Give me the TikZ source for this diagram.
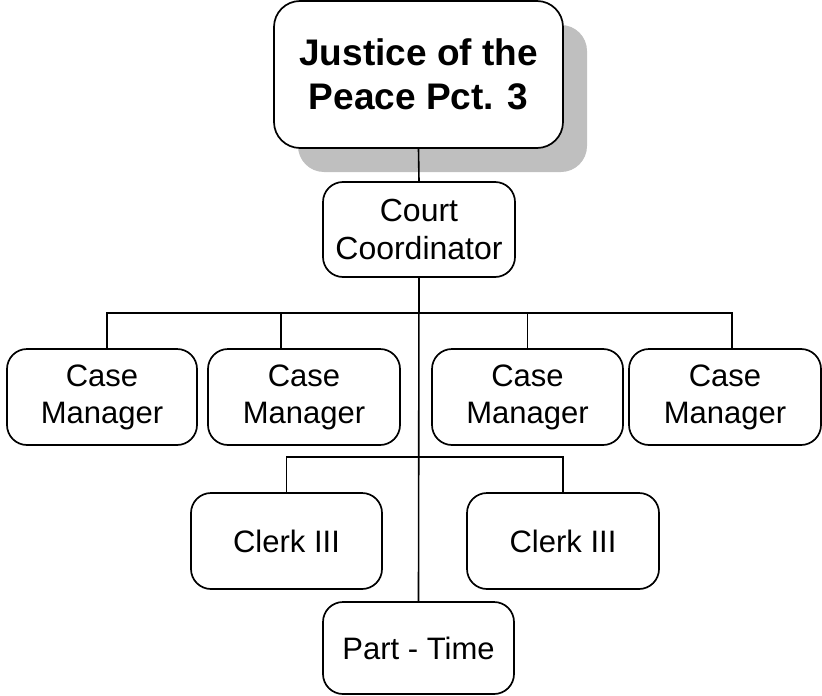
\documentclass[tikz,border=0pt]{standalone}
\usepackage{fontspec}
\setmainfont{Liberation Sans}
\usepackage{tikz}
\usetikzlibrary{positioning,calc,shadows}

\tikzset{
    staffbox/.style={draw, line width=1.7pt, rounded corners=20pt, fill=white, align=center,
        inner sep=0pt, minimum width=191pt, minimum height=96pt,
        font=\fontsize{31}{37}\selectfont},
    judgebox/.style={staffbox, rounded corners=26pt, minimum width=289pt, minimum height=147pt,
        font=\fontsize{37}{44}\selectfont\bfseries,
        general shadow={fill=black!25, shadow xshift=24pt, shadow yshift=-24pt}},
    link/.style={line width=1.6pt}
}

\begin{document}
\begin{tikzpicture}[x=1pt, y=1pt]
    \useasboundingbox (0,0) rectangle (822,-696);

    % Judge and coordinator
    \node[judgebox] (judge) at (418.5,-74.5) {Justice of the\\Peace Pct. 3};
    \node[staffbox, minimum width=192pt, minimum height=95pt, font=\fontsize{32}{38}\selectfont]
        (coord) at (419,-229.5) {Court\\Coordinator};

    % Case managers
    \node[staffbox, minimum width=190pt] (cm1) at (102,-397) {Case\\Manager};
    \node[staffbox, minimum width=192pt] (cm2) at (304,-397) {Case\\Manager};
    \node[staffbox] (cm3) at (527.5,-397) {Case\\Manager};
    \node[staffbox, minimum width=192pt] (cm4) at (725,-397) {Case\\Manager};

    % Clerks
    \node[staffbox] (clerk1) at (286.5,-541) {Clerk III};
    \node[staffbox, minimum width=192pt] (clerk2) at (563,-541) {Clerk III};

    % Part-time
    \node[staffbox, minimum height=92pt] (part) at (418.5,-648) {Part - Time};

    % Connectors
    \coordinate (cmbus) at (419,-313);
    \coordinate (clbus) at (419,-457);
    \draw[link] (judge.south) -- (coord.north);
    \draw[link] (coord.south) -- (part.north);
    \draw[link] ([xshift=5pt]cm1.north) |- (cmbus) -| ([xshift=7pt]cm4.north);
    \draw[link] ([xshift=-23pt]cm2.north) -- ([xshift=-23pt]cm2.north |- cmbus);
    \draw[link] (cm3.north) -- (cm3.north |- cmbus);
    \draw[link] (clerk1.north) |- (clbus) -| (clerk2.north);
\end{tikzpicture}
\end{document}
